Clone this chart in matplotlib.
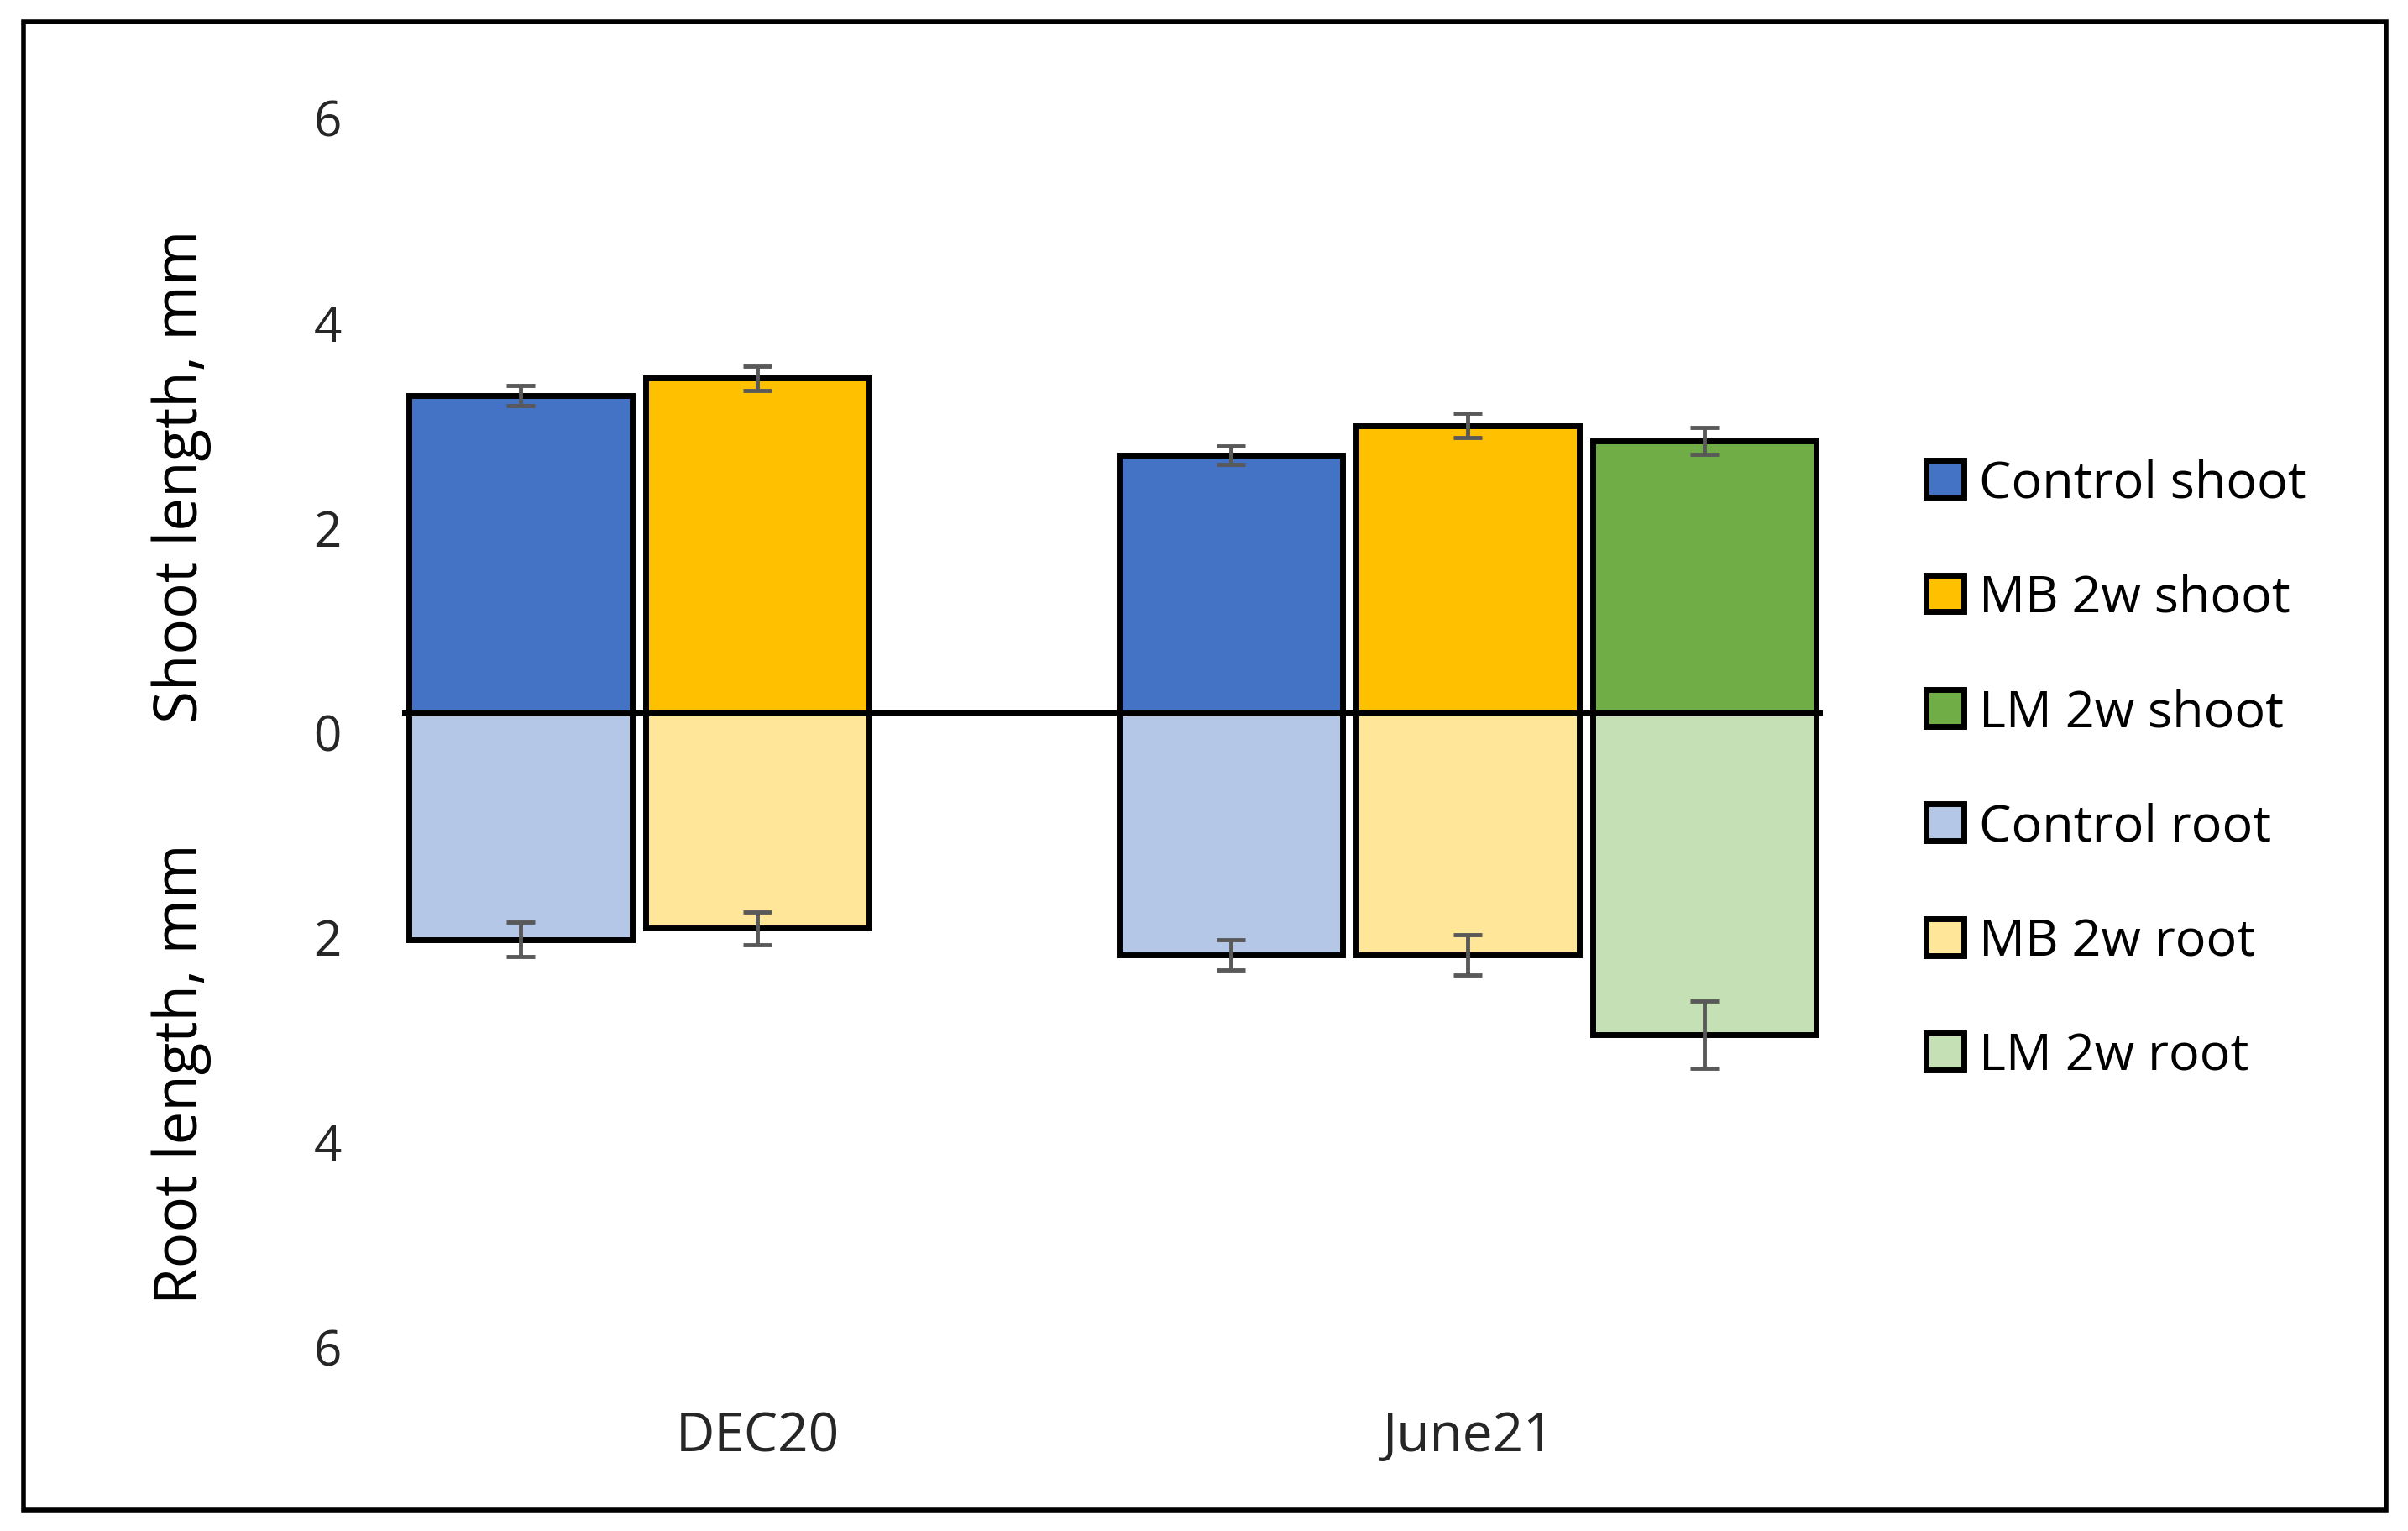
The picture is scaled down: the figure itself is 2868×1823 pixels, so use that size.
import numpy as np
import matplotlib.pyplot as plt
from matplotlib.patches import Rectangle
from matplotlib.transforms import ScaledTranslation

plt.rcParams["font.family"] = ["Open Sans", "DejaVu Sans"]

categories = ["DEC20", "June21"]
series_names = ["Control", "MB 2w", "LM 2w"]

shoot_mean = {
    "Control": [3.10, 2.52],
    "MB 2w": [3.27, 2.81],
    "LM 2w": [np.nan, 2.66],
}
shoot_err = {
    "Control": [0.10, 0.09],
    "MB 2w": [0.12, 0.12],
    "LM 2w": [np.nan, 0.13],
}
root_mean = {
    "Control": [2.21, 2.36],
    "MB 2w": [2.10, 2.36],
    "LM 2w": [np.nan, 3.14],
}
root_err = {
    "Control": [0.17, 0.15],
    "MB 2w": [0.16, 0.20],
    "LM 2w": [np.nan, 0.33],
}

shoot_colors = {"Control": "#4472C4", "MB 2w": "#FFC000", "LM 2w": "#70AD47"}
root_colors = {"Control": "#B4C7E7", "MB 2w": "#FFE699", "LM 2w": "#C5E0B4"}

y_ticks = [6, 4, 2, 0, -2, -4, -6]


def draw_series(ax, x, means, errs, color, sign):
    means = np.asarray(means, dtype=float)
    errs = np.asarray(errs, dtype=float)
    ok = ~np.isnan(means)
    bars = ax.bar(x[ok], sign * means[ok], width=0.315, color=color,
                  edgecolor="black", linewidth=5, zorder=2)
    ax.errorbar(x[ok], sign * means[ok], yerr=errs[ok], fmt="none",
                ecolor="#595959", elinewidth=3.5, capsize=12, capthick=3.5, zorder=4)
    return bars


def main() -> None:
    fig = plt.figure(figsize=(28.68, 18.24), dpi=100)
    ax = fig.add_axes([0.167, 0.1327, 0.590, 0.8023])

    xs = np.arange(len(categories))
    offsets = [-1 / 3, 0, 1 / 3]

    handles, labels = [], []
    for name, off in zip(series_names, offsets):
        b = draw_series(ax, xs + off, shoot_mean[name], shoot_err[name], shoot_colors[name], 1)
        handles.append(b)
        labels.append(f"{name} shoot")
    for name, off in zip(series_names, offsets):
        b = draw_series(ax, xs + off, root_mean[name], root_err[name], root_colors[name], -1)
        handles.append(b)
        labels.append(f"{name} root")

    ax.axhline(0, color="black", linewidth=4.5, zorder=3)

    ax.set_xlim(-0.5, 1.5)
    ax.set_ylim(-6, 6)
    ax.set_yticks(y_ticks)
    ax.set_yticklabels([str(abs(t)) for t in y_ticks])
    ax.set_xticks(xs)
    ax.set_xticklabels(categories)
    ax.tick_params(axis="y", length=0, pad=52, labelsize=42, labelcolor="#262626")
    ax.tick_params(axis="x", length=0, pad=70, labelsize=46, labelcolor="#262626")
    shift = ScaledTranslation(0, -0.22, fig.dpi_scale_trans)
    for lab in ax.get_yticklabels():
        lab.set_transform(lab.get_transform() + shift)
    for side in ax.spines.values():
        side.set_visible(False)

    fig.text(0.0753, 0.689, "Shoot length, mm", rotation=90, ha="center", va="center", fontsize=51)
    fig.text(0.0753, 0.299, "Root length, mm", rotation=90, ha="center", va="center", fontsize=51)

    fig.legend(handles, labels, loc="center left", bbox_to_anchor=(0.800, 0.497),
               frameon=False, fontsize=44, handlelength=0.725, handleheight=0.725,
               handletextpad=0.3, labelspacing=1.25, borderpad=0, borderaxespad=0)

    fig.patches.append(Rectangle((0.0098, 0.0137), 0.981, 0.9715, transform=fig.transFigure,
                                 fill=False, edgecolor="black", linewidth=4))

    fig.savefig("out.png", dpi=100)
    plt.close(fig)


if __name__ == "__main__":
    main()
